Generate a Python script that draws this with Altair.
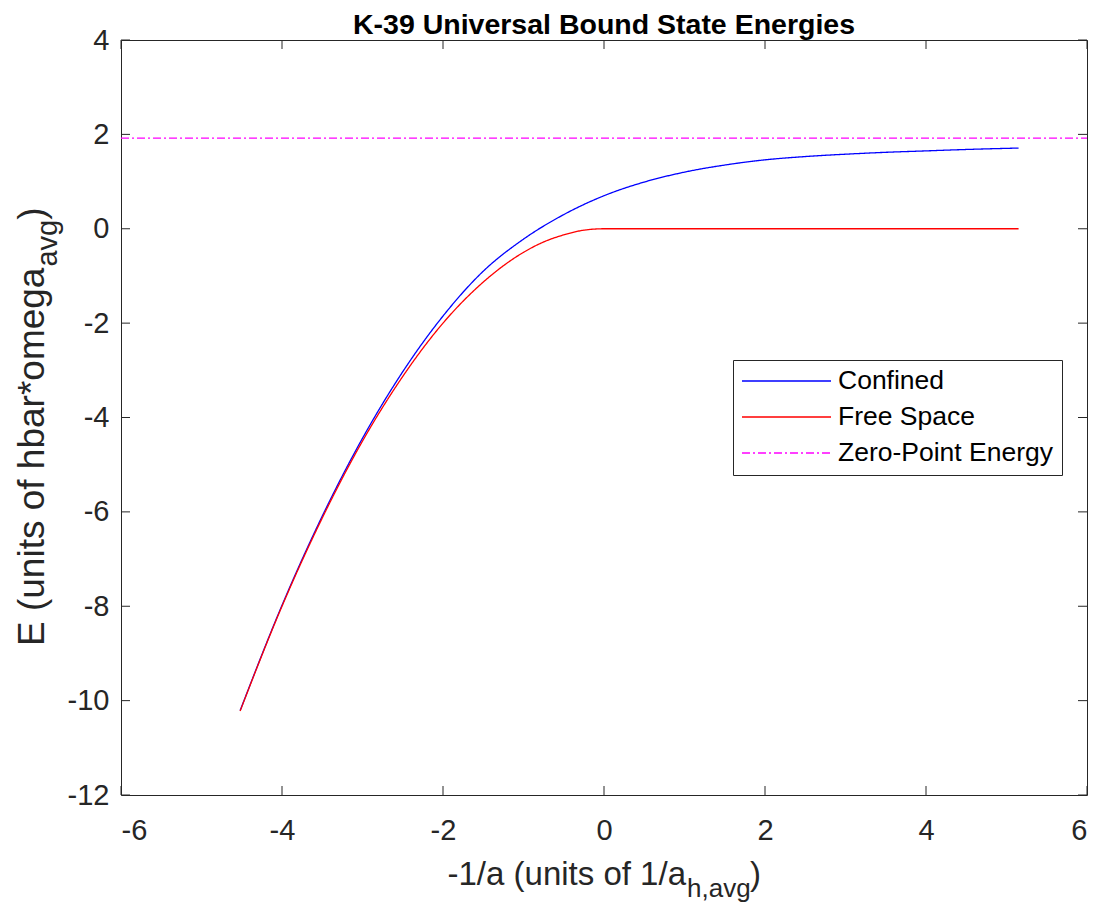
import altair as alt
import pandas as pd

# ---- data ----
conf_x = [-4.52, -4.0, -3.5, -3.0, -2.5, -2.0, -1.5, -1.0, -0.5, 0.0, 0.5, 1.0, 1.5, 2.0, 2.5, 3.0, 3.5, 4.0, 4.5, 5.15]
conf_y = [-10.21, -7.98, -6.09, -4.44, -3.03, -1.85, -0.90, -0.22, 0.30, 0.70, 0.99, 1.20, 1.35, 1.46, 1.53, 1.58, 1.62, 1.65, 1.68, 1.71]

free_x = [-4.52, -4.0, -3.5, -3.0, -2.5, -2.0, -1.5, -1.0, -0.75, -0.5, -0.25, 0.0, 5.15]
free_y = [-10.22, -8.0, -6.13, -4.5, -3.13, -2.0, -1.13, -0.5, -0.28, -0.13, -0.03, 0.0, 0.0]

zpe_x = [-6.0, 6.0]
zpe_y = [1.92, 1.92]

series_names = ["Confined", "Free Space", "Zero-Point Energy"]
series_colors = ["#0000ff", "#ff0000", "#ff00ff"]
series_dashes = [[1, 0], [1, 0], [8, 3, 2, 3]]

x_ticks = [-6, -4, -2, 0, 2, 4, 6]
y_ticks = [-12, -10, -8, -6, -4, -2, 0, 2, 4]

title_text = "K-39 Universal Bound State Energies"
xlabel_main, xlabel_sub, xlabel_end = "-1/a (units of 1/a", "h,avg", ")"
ylabel_main, ylabel_sub, ylabel_end = "E (units of hbar*omega", "avg", ")"

# ---- build table ----
rows = []
for name, xs, ys in zip(series_names, [conf_x, free_x, zpe_x], [conf_y, free_y, zpe_y]):
    for i, (xv, yv) in enumerate(zip(xs, ys)):
        rows.append({"series": name, "x": xv, "y": yv, "order": i})
df = pd.DataFrame(rows)

W, H = 966, 755
FONT = "Liberation Sans"
INK = "#262626"
TICK = 9

xscale = alt.Scale(domain=[-6, 6], nice=False, zero=False)
yscale = alt.Scale(domain=[-12, 4], nice=False, zero=False)

xaxis = alt.Axis(
    values=x_ticks, title=None, grid=False, ticks=False, tickSize=0, domain=False,
    labelFont=FONT, labelFontSize=29, labelColor=INK, labelPadding=21,
    labelExpr="'' + datum.value")
yaxis = alt.Axis(
    values=y_ticks, title=None, grid=False, ticks=False, tickSize=0, domain=False,
    labelFont=FONT, labelFontSize=29, labelColor=INK, labelPadding=12,
    labelExpr="'' + datum.value")

legend = alt.Legend(
    title=None, orient="none", legendX=612, legendY=320,
    symbolType="stroke", symbolSize=7921, symbolStrokeWidth=1.3,
    clipHeight=26, rowPadding=9, padding=8, labelOffset=6,
    labelFont=FONT, labelFontSize=26.5, labelColor="black", labelLimit=400,
    fillColor="white", strokeColor=INK, cornerRadius=0,
)

lines = alt.Chart(df).mark_line(strokeWidth=1.3, interpolate="monotone").encode(
    x=alt.X("x:Q", scale=xscale, axis=xaxis),
    y=alt.Y("y:Q", scale=yscale, axis=yaxis),
    color=alt.Color("series:N", scale=alt.Scale(domain=series_names, range=series_colors), legend=legend),
    strokeDash=alt.StrokeDash("series:N", scale=alt.Scale(domain=series_names, range=series_dashes), legend=legend),
    order="order:Q",
)

xt = pd.DataFrame({"t": x_ticks})
yt = pd.DataFrame({"t": y_ticks})
tx_bottom = alt.Chart(xt).mark_rule(color=INK, strokeWidth=1).encode(
    x=alt.X("t:Q", scale=xscale, axis=xaxis), y=alt.value(H), y2=alt.value(H - TICK))
tx_top = alt.Chart(xt).mark_rule(color=INK, strokeWidth=1).encode(
    x=alt.X("t:Q", scale=xscale, axis=xaxis), y=alt.value(0), y2=alt.value(TICK))
ty_left = alt.Chart(yt).mark_rule(color=INK, strokeWidth=1).encode(
    y=alt.Y("t:Q", scale=yscale, axis=yaxis), x=alt.value(0), x2=alt.value(TICK))
ty_right = alt.Chart(yt).mark_rule(color=INK, strokeWidth=1).encode(
    y=alt.Y("t:Q", scale=yscale, axis=yaxis), x=alt.value(W), x2=alt.value(W - TICK))

one = pd.DataFrame({"k": [0]})
LBL = 33
SUB = 26
YLBL = 37
YSUB = 29

def txt(text, x, y, size, align, angle=0, weight="normal", color=INK):
    return alt.Chart(one).mark_text(
        text=text, font=FONT, fontSize=size, color=color, align=align,
        baseline="alphabetic", angle=angle, fontWeight=weight,
    ).encode(x=alt.value(x), y=alt.value(y))

# title
title = txt(title_text, W / 2, -6, 28.5, "center", weight="bold", color="black")

# x label (with subscript)
xl_main = txt(xlabel_main, 565, 845, LBL, "right")
xl_sub = txt(xlabel_sub, 566, 857, SUB, "left")
xl_end = txt(xlabel_end, 629, 845, LBL, "left")

# y label, rotated (with subscript)
y0 = 606
ylen = 10.227 * YLBL
yl_main = txt(ylabel_main, -77, y0, YLBL, "left", 270)
yl_sub = txt(ylabel_sub, -64, y0 - ylen - 1, YSUB, "left", 270)
yl_end = txt(ylabel_end, -77, y0 - ylen - 1 - 1.612 * YSUB, YLBL, "left", 270)

chart = alt.layer(
    lines, tx_bottom, tx_top, ty_left, ty_right,
    title, xl_main, xl_sub, xl_end, yl_main, yl_sub, yl_end,
).properties(
    width=W, height=H,
    autosize=alt.AutoSizeParams(type="none"),
    padding={"left": 113, "top": 32, "right": 4, "bottom": 108},
).configure_view(stroke=INK, strokeWidth=1)

chart.save("out.html", embed_options={"renderer": "svg", "actions": False})
